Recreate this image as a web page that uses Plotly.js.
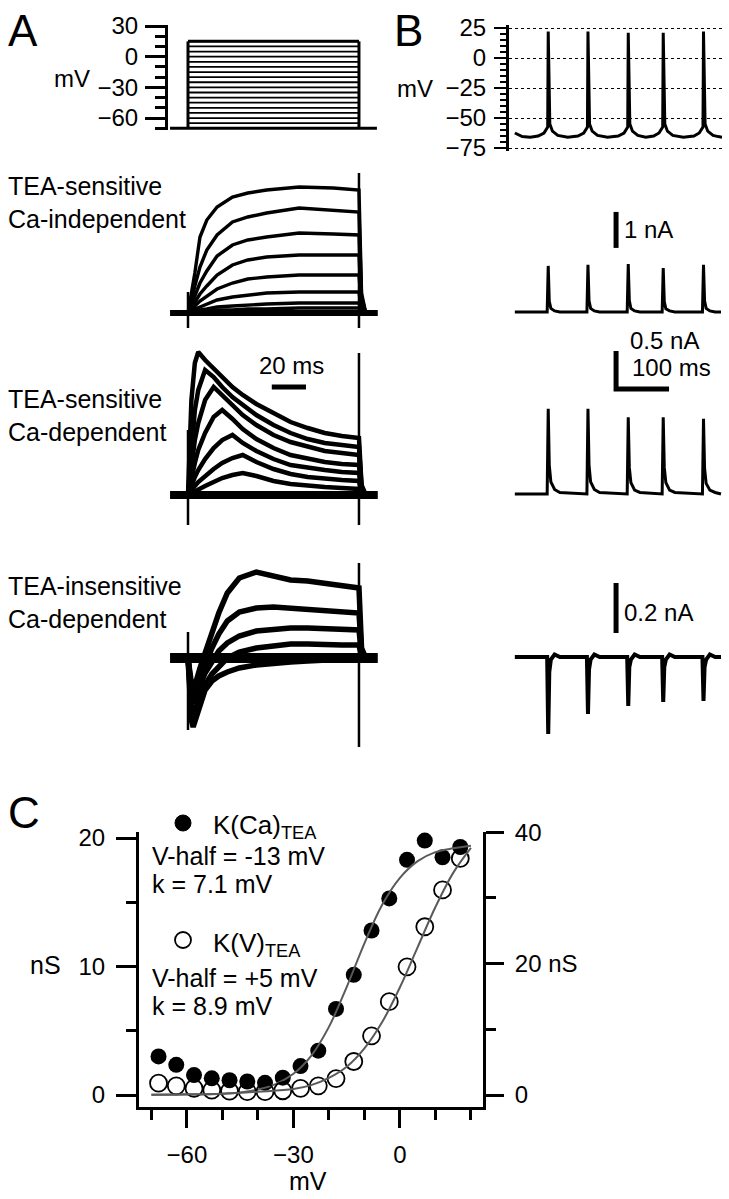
<!DOCTYPE html>
<html>
<head>
<meta charset="utf-8">
<script src="https://cdn.plot.ly/plotly-3.0.1.min.js"></script>
<style>html,body{margin:0;padding:0;background:#fff;}#chart{width:729px;height:1199px;}</style>
</head>
<body>
<div id="chart"></div>
<script>
// ---------------- DATA ----------------
// Panel A (top): voltage-step protocol (mV), step from 0 to 100 ms
const holdingPotential = -70;
const protocolTime = [-10.5, 110.5];
const stepLevels = [-65, -60, -55, -50, -45, -40, -35, -30, -25, -20, -15, -10, -5, 0, 5, 10, 15];
const stepOn = 0, stepOff = 100;

// Panel A: TEA-sensitive Ca-independent currents (time in ms)
const a1T = [0, 2, 4, 7, 11, 17, 26, 35, 46, 65, 85, 100, 101.5, 104];
const a1I1 = [0, 0.18, 0.40, 0.76, 0.93, 1.06, 1.16, 1.20, 1.23, 1.26, 1.25, 1.23, 0.20, 0];
const a1I2 = [0, 0.12, 0.27, 0.46, 0.63, 0.78, 0.91, 0.96, 1.00, 1.05, 1.03, 1.01, 0.16, 0];
const a1I3 = [0, 0.08, 0.17, 0.30, 0.42, 0.57, 0.68, 0.73, 0.76, 0.80, 0.79, 0.78, 0.12, 0];
const a1I4 = [0, 0.05, 0.11, 0.19, 0.27, 0.38, 0.48, 0.53, 0.56, 0.58, 0.58, 0.58, 0.09, 0];
const a1I5 = [0, 0.03, 0.07, 0.12, 0.17, 0.24, 0.30, 0.34, 0.36, 0.38, 0.38, 0.38, 0.06, 0];
const a1I6 = [0, 0.02, 0.04, 0.06, 0.09, 0.13, 0.16, 0.18, 0.20, 0.21, 0.21, 0.21, 0.03, 0];
const a1I7 = [0, 0.01, 0.02, 0.03, 0.04, 0.06, 0.07, 0.08, 0.09, 0.10, 0.10, 0.10, 0.02, 0];
const a1I8 = [0, 0.00, 0.01, 0.01, 0.02, 0.03, 0.03, 0.04, 0.04, 0.05, 0.05, 0.05, 0.01, 0];
const a1Artifact = [0.21, -0.15];
const a1ArtifactOff = [1.40, -0.15];

// Panel A: TEA-sensitive Ca-dependent currents
const a2T = [0, 2, 4, 6, 10, 15, 20, 26, 32, 40, 50, 60, 70, 80, 90, 100, 101.5, 104];
const a2I1 = [0, 0.95, 1.32, 1.43, 1.35, 1.27, 1.18, 1.08, 1.00, 0.91, 0.82, 0.73, 0.67, 0.62, 0.59, 0.57, 0.10, 0];
const a2I2 = [0, 0.50, 0.85, 1.05, 1.25, 1.18, 1.08, 0.98, 0.90, 0.80, 0.70, 0.62, 0.56, 0.52, 0.50, 0.48, 0.08, 0];
const a2I3 = [0, 0.30, 0.55, 0.72, 0.95, 1.08, 1.00, 0.90, 0.80, 0.70, 0.60, 0.53, 0.48, 0.44, 0.42, 0.40, 0.07, 0];
const a2I4 = [0, 0.18, 0.32, 0.45, 0.62, 0.78, 0.85, 0.76, 0.66, 0.56, 0.47, 0.40, 0.36, 0.33, 0.31, 0.30, 0.05, 0];
const a2I5 = [0, 0.10, 0.18, 0.25, 0.36, 0.47, 0.55, 0.60, 0.52, 0.44, 0.36, 0.30, 0.27, 0.25, 0.23, 0.22, 0.04, 0];
const a2I6 = [0, 0.05, 0.09, 0.13, 0.19, 0.26, 0.32, 0.37, 0.40, 0.33, 0.26, 0.21, 0.18, 0.16, 0.15, 0.14, 0.02, 0];
const a2I7 = [0, 0.02, 0.04, 0.06, 0.09, 0.13, 0.17, 0.20, 0.22, 0.19, 0.14, 0.11, 0.09, 0.08, 0.07, 0.06, 0.01, 0];
const a2Artifact = [0.65, -0.30];
const a2ArtifactOff = [1.42, -0.30];
const scaleBar20msT = [49, 69];
const scaleBar20msY = 1.08;

// Panel A: TEA-insensitive Ca-dependent currents
const a3T = [0, 1, 2, 3, 5, 7, 10, 14, 18, 23, 30, 40, 50, 60, 70, 80, 90, 100, 101.5, 104];
const a3I1 = [0, -0.15, -0.25, -0.28, -0.22, -0.10, 0.05, 0.25, 0.45, 0.65, 0.80, 0.86, 0.82, 0.78, 0.77, 0.75, 0.73, 0.70, 0.10, 0];
const a3I2 = [0, -0.20, -0.32, -0.36, -0.30, -0.20, -0.06, 0.10, 0.24, 0.37, 0.46, 0.50, 0.51, 0.50, 0.48, 0.47, 0.46, 0.45, 0.07, 0];
const a3I3 = [0, -0.25, -0.40, -0.45, -0.38, -0.28, -0.15, -0.03, 0.07, 0.15, 0.22, 0.27, 0.29, 0.30, 0.30, 0.29, 0.28, 0.28, 0.04, 0];
const a3I4 = [0, -0.30, -0.50, -0.56, -0.48, -0.38, -0.27, -0.16, -0.08, 0.00, 0.06, 0.10, 0.12, 0.14, 0.14, 0.13, 0.13, 0.13, 0.02, 0];
const a3I5 = [0, -0.40, -0.62, -0.69, -0.58, -0.45, -0.32, -0.23, -0.18, -0.14, -0.10, -0.07, -0.05, -0.04, -0.03, -0.02, -0.02, -0.01, 0, 0];
const a3Artifact = [0.26, -0.72];
const a3ArtifactOff = [0.95, -0.89];
const baselineT = [-10.5, 111];

// Panel B (top): action potential train (ms, mV)
const apT = [11, 25, 40, 55, 66, 71, 73, 74, 75.5, 77, 82, 92,
  111, 130, 141, 146, 148, 149, 150.5, 152, 157, 167,
  186, 206, 217, 222, 224, 225, 226.5, 228, 233, 243,
  258, 273, 283, 288, 290, 291, 292.5, 294, 299, 309,
  329, 349, 359, 364, 366, 367, 368.5, 370, 375, 385,
  395, 402];
const apV = [-62.5, -65.5, -66, -65, -62.5, -59.5, -57.5, 22, -20, -55, -61, -64.5,
  -66, -65, -62.5, -59.5, -57.5, 22, -20, -55, -61, -64.5,
  -66, -65, -62.5, -59.5, -57.5, 21, -20, -55, -61, -64.5,
  -66, -65, -62.5, -59.5, -57.5, 21, -20, -55, -61, -64.5,
  -66, -65, -62.5, -59.5, -57.5, 22, -20, -55, -61, -64.5,
  -65.5, -66];

// Panel B: AP-clamp currents (ms, nA)
const bT = [11,
  72, 74, 76, 79, 86, 96,
  147, 149, 151, 154, 161, 171,
  223, 225, 227, 230, 237, 247,
  289, 291, 293, 296, 303, 313,
  365, 367, 369, 372, 379, 389,
  400];
const bIkv = [0,
  0, 1.28, 0.30, 0.10, 0.03, 0,
  0, 1.31, 0.31, 0.10, 0.03, 0,
  0, 1.33, 0.32, 0.10, 0.03, 0,
  0, 1.22, 0.29, 0.09, 0.03, 0,
  0, 1.31, 0.31, 0.10, 0.03, 0,
  0];
const bIkcaTEA = [0,
  0, 1.12, 0.38, 0.16, 0.06, 0.02,
  0, 1.12, 0.38, 0.16, 0.06, 0.02,
  0, 1.01, 0.35, 0.15, 0.05, 0.02,
  0, 1.01, 0.35, 0.15, 0.05, 0.02,
  0, 0.99, 0.34, 0.14, 0.05, 0.02,
  0];
const bIkcaIns = [0,
  0, -0.308, -0.06, -0.01, 0.01, 0,
  0, -0.228, -0.05, -0.01, 0.01, 0,
  0, -0.196, -0.04, -0.01, 0.01, 0,
  0, -0.180, -0.04, -0.01, 0.01, 0,
  0, -0.176, -0.04, -0.01, 0.01, 0,
  0];
const scaleBarT = 202;
const scaleB1 = [1.78, 2.78];      // 1 nA
const scaleB2 = [1.38, 1.88];      // 0.5 nA
const scaleB2time = [202, 302];    // 100 ms
const scaleB3 = [0.096, 0.296];    // 0.2 nA

// Panel C: conductance-voltage (mV, nS)
const cV = [-68, -63, -58, -53, -48, -43, -38, -33, -28, -23, -18, -13, -8, -3, 2, 7, 12, 17];
const gKCa = [3.0, 2.35, 1.55, 1.3, 1.15, 1.05, 0.95, 1.35, 2.25, 3.45, 6.7, 9.35, 12.8, 15.3, 18.3, 19.8, 18.5, 19.3];
const gKV = [1.8, 1.4, 1.0, 0.75, 0.6, 0.5, 0.5, 0.65, 1.0, 1.4, 2.5, 5.1, 9.0, 14.2, 19.5, 25.6, 31.2, 36.0];
const fitCaV = [-70, -60, -50, -45, -40, -35, -30, -25, -20, -15, -10, -5, 0, 5, 10, 15, 20];
const fitCaG = [0.01, 0.03, 0.1, 0.2, 0.43, 0.85, 1.65, 3.05, 5.3, 8.4, 11.8, 14.8, 16.9, 18.2, 18.9, 19.2, 19.4];
const fitKV = [-70, -60, -50, -40, -30, -25, -20, -15, -10, -5, 0, 5, 10, 15, 20];
const fitKG = [0.05, 0.1, 0.2, 0.5, 0.9, 1.5, 2.6, 4.3, 7.1, 11.1, 16.4, 22.5, 28.6, 33.8, 37.6];

// ---------------- LAYOUT HELPERS ----------------
const W = 729, H = 1199;
const FONT = 'Liberation Sans, Arial, Helvetica, sans-serif';
const fx = p => p / W;
const fy = p => 1 - p / H;
const dom = (top, bottom) => [fy(bottom), fy(top)];

const traces = [];
function line(x, y, xa, ya, width, extra) {
  traces.push(Object.assign({
    type: 'scatter', mode: 'lines', x: x, y: y, xaxis: xa, yaxis: ya,
    line: {color: '#000', width: width}, hoverinfo: 'skip', showlegend: false
  }, extra || {}));
}

// A top: protocol
(function () {
  const xs = [], ys = [];
  stepLevels.forEach(v => { xs.push(stepOn, stepOff, null); ys.push(v, v, null); });
  line(xs, ys, 'x', 'y', 1.8);
  const top = stepLevels[stepLevels.length - 1];
  line([stepOn, stepOn], [holdingPotential, top], 'x', 'y', 3);
  line([stepOff, stepOff], [holdingPotential, top], 'x', 'y', 3);
  line([stepOn, stepOff], [top, top], 'x', 'y', 3);
  line(protocolTime, [holdingPotential, holdingPotential], 'x', 'y', 3);
})();

// A currents
[a1I1, a1I2, a1I3, a1I4, a1I5, a1I6, a1I7, a1I8].forEach(v => line(a1T, v, 'x', 'y2', 3.4));
line(baselineT, [0, 0], 'x', 'y2', 6);
line([stepOn, stepOn], a1Artifact, 'x', 'y2', 2.5);
line([stepOff, stepOff], a1ArtifactOff, 'x', 'y2', 2.5);

[a2I1, a2I2, a2I3, a2I4, a2I5, a2I6, a2I7].forEach(v => line(a2T, v, 'x', 'y3', 4.5));
line(baselineT, [0, 0], 'x', 'y3', 8);
line([stepOn, stepOn], a2Artifact, 'x', 'y3', 2.5);
line([stepOff, stepOff], a2ArtifactOff, 'x', 'y3', 2.5);
line(scaleBar20msT, [scaleBar20msY, scaleBar20msY], 'x', 'y3', 5);

[a3I1, a3I2, a3I3, a3I4, a3I5].forEach(v => line(a3T, v, 'x', 'y4', 5.5));
line(baselineT, [0, 0], 'x', 'y4', 10);
line([stepOn, stepOn], a3Artifact, 'x', 'y4', 2.5);
line([stepOff, stepOff], a3ArtifactOff, 'x', 'y4', 2.5);

// B top AP
line(apT, apV, 'x2', 'y5', 3);
// B currents
line(bT, bIkv, 'x2', 'y6', 3);
line([scaleBarT, scaleBarT], scaleB1, 'x2', 'y6', 5);
line(bT, bIkcaTEA, 'x2', 'y7', 3);
line([scaleBarT, scaleBarT, scaleB2time[1]], [scaleB2[1], scaleB2[0], scaleB2[0]], 'x2', 'y7', 5);
line(bT, bIkcaIns, 'x2', 'y8', 4);
line([scaleBarT, scaleBarT], scaleB3, 'x2', 'y8', 5);

// C
traces.push({type: 'scatter', mode: 'markers', x: cV, y: gKCa, xaxis: 'x3', yaxis: 'y9',
  marker: {size: 16, color: '#000'}, hoverinfo: 'skip', showlegend: false, cliponaxis: false});
traces.push({type: 'scatter', mode: 'markers', x: cV, y: gKV, xaxis: 'x3', yaxis: 'y10',
  marker: {size: 17, symbol: 'circle-open', color: '#000', line: {width: 1.8, color: '#000'}},
  hoverinfo: 'skip', showlegend: false, cliponaxis: false});
line(fitCaV, fitCaG, 'x3', 'y9', 2, {line: {color: '#5a5a5a', width: 2, shape: 'spline'}});
line(fitKV, fitKG, 'x3', 'y10', 2, {line: {color: '#5a5a5a', width: 2, shape: 'spline'}});

// ---------------- AXES ----------------
const hidden = {visible: false, fixedrange: true, zeroline: false, showgrid: false};
const tickFont = {family: FONT, size: 24, color: '#000'};

const layout = {
  width: W, height: H, margin: {l: 0, r: 0, t: 0, b: 0},
  paper_bgcolor: '#fff', plot_bgcolor: 'rgba(0,0,0,0)', showlegend: false,
  font: {family: FONT, color: '#000'},
  // A time axis
  xaxis: Object.assign({}, hidden, {domain: [fx(168), fx(380)], range: [-11.7, 112.3], anchor: 'y'}),
  yaxis: {domain: dom(25, 130), range: [-71.7, 31.0], anchor: 'x',
    showline: true, linewidth: 3, linecolor: '#000', zeroline: false, showgrid: false,
    ticks: 'outside', ticklen: 20, tickwidth: 3, tickcolor: '#000', tick0: 0, dtick: 30,
    minor: {ticks: 'outside', ticklen: 10, tickwidth: 3, tickcolor: '#000', tick0: 0, dtick: 10, showgrid: false},
    tickfont: tickFont, ticklabelstandoff: 2},
  yaxis2: Object.assign({}, hidden, {domain: dom(165, 335), range: [-0.22, 1.48], anchor: 'x'}),
  yaxis3: Object.assign({}, hidden, {domain: dom(340, 540), range: [-0.45, 1.55], anchor: 'x'}),
  yaxis4: Object.assign({}, hidden, {domain: dom(545, 760), range: [-1.02, 1.13], anchor: 'x'}),
  // B time axis
  xaxis2: Object.assign({}, hidden, {domain: [fx(509), fx(722)], range: [0, 401.9], anchor: 'y5'}),
  yaxis5: {domain: dom(25, 151), range: [-77.5, 27.5], anchor: 'x2',
    showline: true, linewidth: 3, linecolor: '#000', zeroline: false,
    showgrid: true, gridcolor: '#000', gridwidth: 1, griddash: '3px,3px',
    ticks: 'outside', ticklen: 12, tickwidth: 2.5, tickcolor: '#000', tick0: 0, dtick: 25,
    minor: {ticks: 'outside', ticklen: 6, tickwidth: 2, tickcolor: '#000', tick0: 0, dtick: 5, showgrid: false},
    tickfont: tickFont, ticklabelstandoff: 3},
  yaxis6: Object.assign({}, hidden, {domain: dom(200, 330), range: [-0.5, 3.111], anchor: 'x2'}),
  yaxis7: Object.assign({}, hidden, {domain: dom(340, 510), range: [-0.2105, 2.0263], anchor: 'x2'}),
  yaxis8: Object.assign({}, hidden, {domain: dom(575, 745), range: [-0.352, 0.328], anchor: 'x2'}),
  // C
  xaxis3: {domain: [fx(139), fx(483)], range: [-73.5, 23.4], anchor: 'y9',
    showline: true, linewidth: 3, linecolor: '#000', zeroline: false, showgrid: false,
    ticks: 'outside', ticklen: 18, tickwidth: 3, tickcolor: '#000', tick0: 0, dtick: 30,
    minor: {ticks: 'outside', ticklen: 10, tickwidth: 3, tickcolor: '#000', tick0: 0, dtick: 10, showgrid: false},
    tickfont: tickFont, ticklabelstandoff: 6},
  yaxis9: {domain: dom(832, 1107), range: [-0.934, 20.467], anchor: 'x3',
    showline: true, linewidth: 3, linecolor: '#000', zeroline: false, showgrid: false,
    ticks: 'outside', ticklen: 20, tickwidth: 3, tickcolor: '#000', tickmode: 'array', tickvals: [0, 10, 20],
    minor: {ticks: 'outside', ticklen: 10, tickwidth: 3, tickcolor: '#000', tickmode: 'array', tickvals: [5, 15], showgrid: false},
    tickfont: tickFont, ticklabelstandoff: 6},
  yaxis10: {domain: dom(832, 1107), range: [-1.825, 40.02], anchor: 'x3', overlaying: 'y9', side: 'right',
    showline: true, linewidth: 3, linecolor: '#000', zeroline: false, showgrid: false,
    ticks: 'outside', ticklen: 18, tickwidth: 3, tickcolor: '#000', tickmode: 'array',
    tickvals: [0, 20, 40], ticktext: ['0', '20 nS', '40'],
    minor: {ticks: 'outside', ticklen: 10, tickwidth: 3, tickcolor: '#000', tickmode: 'array', tickvals: [10, 30], showgrid: false},
    tickfont: tickFont, ticklabelstandoff: 6},
  annotations: [],
  shapes: []
};

function ann(text, xp, yp, size, xanchor, yanchor, align) {
  layout.annotations.push({text: text, x: fx(xp), y: fy(yp), xref: 'paper', yref: 'paper',
    xanchor: xanchor || 'left', yanchor: yanchor || 'middle', align: align || 'left',
    showarrow: false, font: {family: FONT, size: size, color: '#000'}});
}
ann('A', 6, 30, 44);
ann('B', 392, 30, 44);
ann('C', 6, 812, 44);
ann('mV', 72, 78, 24, 'center');
ann('mV', 415, 88, 24, 'center');
ann('TEA-sensitive<br>Ca-independent', 6, 202, 25);
ann('TEA-sensitive<br>Ca-dependent', 6, 416, 25);
ann('TEA-insensitive<br>Ca-dependent', 6, 602, 25);
ann('20 ms', 291, 365, 24, 'center');
ann('1 nA', 622, 230, 24);
ann('0.5 nA', 628, 340, 24);
ann('100 ms', 630, 367, 24);
ann('0.2 nA', 622, 612, 24);
ann('K(Ca)<sub>TEA</sub>', 211, 826, 26);
ann('V-half = -13 mV', 150, 856, 25);
ann('k = 7.1 mV', 150, 884, 25);
ann('K(V)<sub>TEA</sub>', 211, 944, 26);
ann('V-half = +5 mV', 150, 978, 25);
ann('k = 8.9 mV', 150, 1006, 25);
ann('nS', 46, 965, 25, 'center');
ann('mV', 308, 1181, 25, 'center');

// legend symbols for panel C
layout.shapes.push({type: 'circle', xref: 'paper', yref: 'paper',
  x0: fx(175), x1: fx(191), y0: fy(831), y1: fy(815), fillcolor: '#000', line: {color: '#000', width: 1}});
layout.shapes.push({type: 'circle', xref: 'paper', yref: 'paper',
  x0: fx(175), x1: fx(191), y0: fy(948), y1: fy(932), fillcolor: 'rgba(0,0,0,0)', line: {color: '#000', width: 1.8}});

Plotly.newPlot('chart', traces, layout, {staticPlot: true, displayModeBar: false});
</script>
</body>
</html>
